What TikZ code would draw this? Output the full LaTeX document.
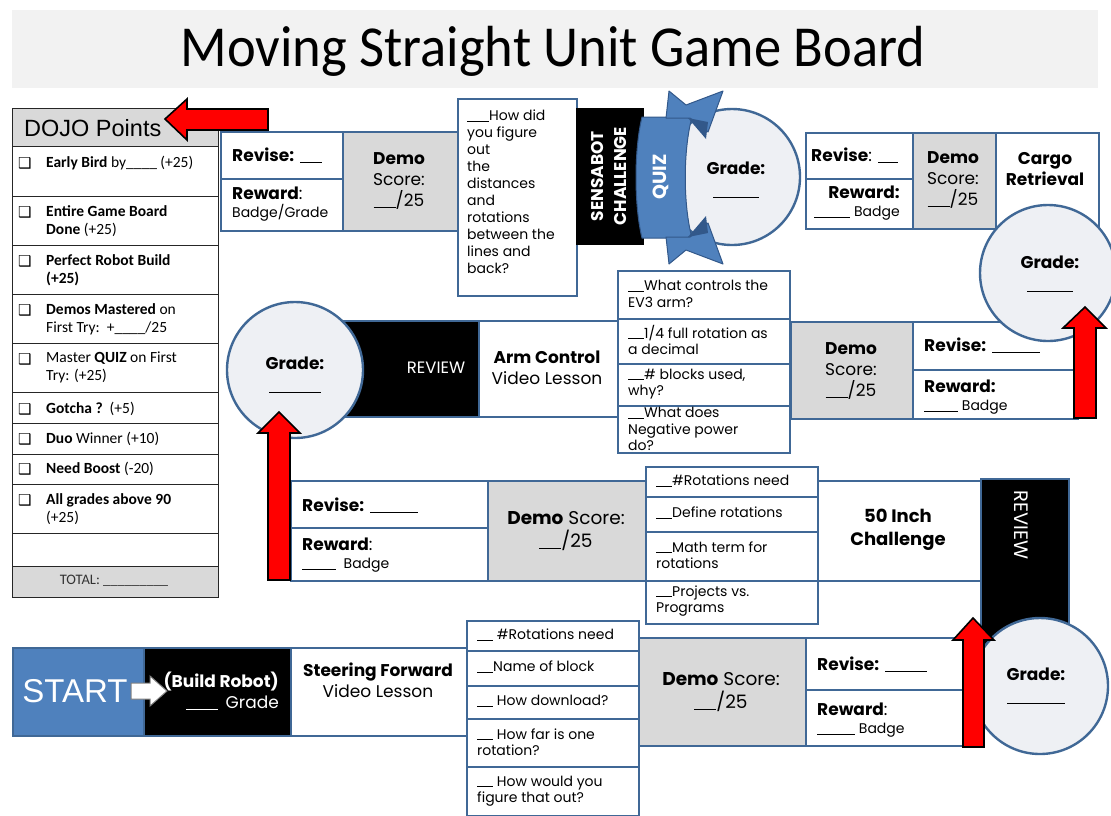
\documentclass[tikz,border=0pt]{standalone}
\usepackage{fontspec}
\setmainfont{Poppins}
\newfontfamily\titlefont{Carlito}
\newfontfamily\listfont{Carlito}
\newfontfamily\symfont{DejaVu Sans}
\newfontfamily\startfont{Liberation Sans}
\usetikzlibrary{positioning}
\definecolor{bblue}{RGB}{64,104,150}
\definecolor{fblue}{RGB}{79,129,189}
\definecolor{dblue}{RGB}{50,88,138}
\definecolor{cgray}{RGB}{217,217,217}
\definecolor{circfill}{RGB}{238,240,244}
\definecolor{titlegray}{RGB}{242,242,242}
\definecolor{arrred}{RGB}{255,0,0}
\newcommand{\bl}[1]{\rule[-1pt]{#1pt}{0.8pt}}
\begin{document}
\begin{tikzpicture}[x=1pt,y=-1pt,
  cell/.style={draw=bblue, line width=2.4pt, inner sep=0pt, anchor=north west, fill=white},
  gcell/.style={cell, fill=cgray},
  bcell/.style={cell, fill=black},
  grade/.style={circle, draw=bblue, line width=2.4pt, fill=circfill, inner sep=0pt, minimum size=136pt},
  gtext/.style={font=\fontsize{17}{21}\selectfont\bfseries, align=center},
  big/.style={font=\fontsize{17}{21}\selectfont, align=center, inner sep=0pt},
  bigl/.style={font=\fontsize{17}{21}\selectfont, align=left, inner sep=0pt, anchor=west},
  sm/.style={font=\fontsize{14}{16.5}\selectfont, align=left, inner sep=0pt, anchor=west},
  qtext/.style={font=\fontsize{14}{17}\selectfont, align=left, inner sep=0pt, anchor=north west},
  dojo/.style={draw=black!85, line width=1.4pt, inner sep=0pt, anchor=north west, minimum width=206pt, fill=white},
  dtext/.style={font=\listfont\fontsize{15.5}{18}\selectfont, align=left, inner sep=0pt, anchor=north west},
  box/.style={font=\symfont\fontsize{15}{15}\selectfont, inner sep=0pt, anchor=north west},
  redarrow/.style={fill=arrred, draw=black, line width=1.6pt, line join=miter},
  ribbon/.style={fill=fblue, draw=dblue, line width=1pt, line join=round}
]
\useasboundingbox (0,0) rectangle (1111,815);
\fill[white] (0,0) rectangle (1111,815);
% title
\fill[titlegray] (12,10) rectangle (1098,88);
\node[font=\titlefont\fontsize{58}{66}\selectfont, inner sep=0pt, xscale=0.94] (title) at (553,51) {Moving Straight Unit Game Board};

% ---------------- DOJO table
\node[dojo, fill=cgray, minimum height=38pt] (dh) at (12,108) {};
\node[font=\startfont\fontsize{23.5}{26}\selectfont, inner sep=0pt, anchor=west] (dht) at (24,128) {DOJO Points};
\node[dojo, minimum height=50pt] (d1) at (12,146) {};
\node[dojo, minimum height=49pt] (d2) at (12,196) {};
\node[dojo, minimum height=49pt] (d3) at (12,245) {};
\node[dojo, minimum height=49pt] (d4) at (12,294) {};
\node[dojo, minimum height=49pt] (d5) at (12,343) {};
\node[dojo, minimum height=31pt] (d6) at (12,392) {};
\node[dojo, minimum height=31pt] (d7) at (12,423) {};
\node[dojo, minimum height=30pt] (d8) at (12,454) {};
\node[dojo, minimum height=49pt] (d9) at (12,484) {};
\node[dojo, minimum height=33pt] (d10) at (12,533) {};
\node[dojo, fill=cgray, minimum height=31pt] (dt) at (12,566) {};
\foreach \n/\y in {1/157,2/206,3/255,4/304,5/353,6/403,7/433,8/463,9/494}{
  \node[box] (cb\n) at (18,\y) {❑};
}
\node[dtext] (t1) at (46,156) {\textbf{Early Bird} by\_\_\_\_ (+25)};
\node[dtext] (t2) at (46,205) {\textbf{Entire Game Board}\\\textbf{Done} (+25)};
\node[dtext] (t3) at (46,254) {\textbf{Perfect Robot Build}\\\textbf{(+25)}};
\node[dtext] (t4) at (46,303) {\textbf{Demos Mastered} on\\First Try:\ \ +\_\_\_\_/25};
\node[dtext] (t5) at (46,352) {Master \textbf{QUIZ} on First\\Try: (+25)};
\node[dtext] (t6) at (46,402) {\textbf{Gotcha ?}\ \ (+5)};
\node[dtext] (t7) at (46,432) {\textbf{Duo} Winner (+10)};
\node[dtext] (t8) at (46,462) {\textbf{Need Boost} (-20)};
\node[dtext] (t9) at (46,493) {\textbf{All grades above 90}\\(+25)};
\node[font=\listfont\fontsize{14.5}{16}\selectfont, text=black!80, inner sep=0pt] (tt) at (114,581) {TOTAL: \_\_\_\_\_\_\_\_\_};

% ---------------- Row D (bottom)
\node[cell, fill=fblue, minimum width=131pt, minimum height=88pt] (start) at (12,647) {};
\node[font=\startfont\fontsize{33}{36}\selectfont, text=white, inner sep=0pt] (startt) at (75,691) {START};
\node[bcell, minimum width=147pt, minimum height=88pt] (build) at (143,647) {};
\node[cell, minimum width=176pt, minimum height=88pt] (steer) at (290,647) {};
\node[big, anchor=east, align=right, text=white] (buildt) at (279,691) {\textbf{(Build Robot)}\\\bl{32}\ \,Grade};
\draw[fill=white, draw=black!50, line width=1pt] (131,683) -- (150,683) -- (150,676) -- (167,691) -- (150,706) -- (150,699) -- (131,699) -- cycle;
\node[big] (steert) at (378,680) {\textbf{Steering Forward}\\Video Lesson};
\node[cell, minimum width=172pt, minimum height=30pt] (qd1) at (466,620) {};
\node[cell, minimum width=172pt, minimum height=35pt] (qd2) at (466,650) {};
\node[cell, minimum width=172pt, minimum height=33pt] (qd3) at (466,685) {};
\node[cell, minimum width=172pt, minimum height=48pt] (qd4) at (466,718) {};
\node[cell, minimum width=172pt, minimum height=49pt] (qd5) at (466,766) {};
\node[sm] (qd1t) at (477,635) {\bl{16} \#Rotations need};
\node[sm] (qd2t) at (477,667) {\bl{16}Name of block};
\node[sm] (qd3t) at (477,701) {\bl{16} How download?};
\node[sm] (qd4t) at (477,742) {\bl{16} How far is one\\rotation?};
\node[sm] (qd5t) at (477,791) {\bl{16} How would you\\figure that out?};
\node[gcell, minimum width=167pt, minimum height=108pt] (demod) at (638,637) {};
\node[big, font=\fontsize{18.5}{23}\selectfont] (demodt) at (721,692) {\textbf{Demo} Score:\\\bl{22}/25};
\node[cell, minimum width=160pt, minimum height=52pt] (revd1) at (805,637) {};
\node[cell, minimum width=160pt, minimum height=56pt] (revd2) at (805,689) {};
\node[bigl] (revd1t) at (817,664) {\textbf{Revise:} \bl{42}};
\node[bigl] (revd2t) at (817,720) {\textbf{Reward}:\\[-3pt]{\fontsize{14}{16}\selectfont\bl{38}\ Badge}};

% ---------------- Row C
\node[cell, minimum width=197pt, minimum height=47pt] (revc1) at (290,480) {};
\node[cell, minimum width=197pt, minimum height=53pt] (revc2) at (290,527) {};
\node[bigl] (revc1t) at (302,505) {\textbf{Revise:} \bl{48}};
\node[bigl] (revc2t) at (302,555) {\textbf{Reward}:\\[-3pt]{\fontsize{14}{16}\selectfont\bl{34}\ \ Badge}};
\node[gcell, minimum width=158pt, minimum height=100pt] (democ) at (487,480) {};
\node[big, font=\fontsize{18.5}{23}\selectfont] (democt) at (566,531) {\textbf{Demo} Score:\\\bl{22}/25};
\node[cell, minimum width=172pt, minimum height=30pt] (qc1) at (645,466) {};
\node[cell, minimum width=172pt, minimum height=35pt] (qc2) at (645,496) {};
\node[cell, minimum width=172pt, minimum height=49pt] (qc3) at (645,531) {};
\node[cell, minimum width=172pt, minimum height=43pt] (qc4) at (645,580) {};
\node[sm] (qc1t) at (656,481) {\bl{16}\#Rotations need};
\node[sm] (qc2t) at (656,513) {\bl{16}Define rotations};
\node[sm] (qc3t) at (656,555) {\bl{16}Math term for\\rotations};
\node[sm] (qc4t) at (656,601) {\bl{16}Projects vs.\\Programs};
\node[cell, minimum width=163pt, minimum height=100pt] (fifty) at (817,480) {};
\node[big, font=\fontsize{18}{23}\selectfont] (fiftyt) at (898,530) {\textbf{50 Inch}\\\textbf{Challenge}};
\node[bcell, minimum width=88pt, minimum height=172pt] (revwc) at (980,478) {};
\node[font=\fontsize{19.5}{22}\selectfont, text=white, rotate=-90, inner sep=0pt] (revwct) at (1021,525) {REVIEW};
\node[grade] (g4) at (1040,686) {};
\node[gtext] (g4t) at (1036,686) {Grade:\\[2pt]\rule{58pt}{0.8pt}};

% ---------------- Row B
\node[cell, minimum width=165pt, minimum height=48pt] (revb1) at (912,321) {};
\node[cell, minimum width=165pt, minimum height=49pt] (revb2) at (912,369) {};
\node[bigl] (revb1t) at (924,345) {\textbf{Revise:} \bl{48}};
\node[bigl] (revb2t) at (924,397) {\textbf{Reward:}\\[-3pt]{\fontsize{14}{16}\selectfont\bl{34}\ Badge}};
\node[gcell, minimum width=122pt, minimum height=97pt] (demob) at (790,321) {};
\node[big] (demobt) at (851,371) {\textbf{Demo}\\Score:\\\bl{22}/25};
\node[cell, minimum width=172pt, minimum height=48pt] (qb1) at (617,270) {};
\node[cell, minimum width=172pt, minimum height=45pt] (qb2) at (617,318) {};
\node[cell, minimum width=172pt, minimum height=42pt] (qb3) at (617,363) {};
\node[cell, minimum width=172pt, minimum height=47pt] (qb4) at (617,405) {};
\node[sm] (qb1t) at (628,294) {\bl{16}What controls the\\EV3 arm?};
\node[sm] (qb2t) at (628,340) {\bl{16}1/4 full rotation as\\a decimal};
\node[sm] (qb3t) at (628,384) {\bl{16}\# blocks used,\\why?};
\node[sm] (qb4t) at (628,429) {\bl{16}What does\\Negative power\\do?};
\node[cell, minimum width=139pt, minimum height=96pt] (arm) at (478,320) {};
\node[big] (armt) at (547,368) {\textbf{Arm Control}\\Video Lesson};
\node[bcell, minimum width=143pt, minimum height=96pt] (revwb) at (335,320) {};
\node[font=\fontsize{16.5}{18}\selectfont, text=white, inner sep=0pt] (revwbt) at (436,368) {REVIEW};
\node[grade] (g3) at (295,370) {};
\node[gtext] (g3t) at (295,375) {Grade:\\[2pt]\rule{52pt}{0.8pt}};

% ---------------- Row A
\node[cell, minimum width=122pt, minimum height=47pt] (reva1) at (220,131) {};
\node[cell, minimum width=122pt, minimum height=52pt] (reva2) at (220,178) {};
\node[bigl] (reva1t) at (232,155) {\textbf{Revise:} \bl{22}};
\node[bigl] (reva2t) at (232,204) {\textbf{Reward}:\\[-3pt]{\fontsize{14}{16}\selectfont Badge/Grade}};
\node[gcell, minimum width=115pt, minimum height=99pt] (demoa) at (342,131) {};
\node[big] (demoat) at (399,181) {\textbf{Demo}\\Score:\\\bl{22}/25};
\node[cell, minimum width=119pt, minimum height=197pt] (qa) at (457,98) {};
\node[qtext] (qat) at (467,110) {\bl{22}How did\\you figure\\out\\the\\distances\\and\\rotations\\between the\\lines and\\back?};
\node[bcell, draw=black, minimum width=66pt, minimum height=135pt] (sens) at (576,108) {};
\node[font=\fontsize{17}{23}\selectfont\bfseries, text=white, rotate=90, align=center, inner sep=0pt] (senst) at (609,176) {SENSABOT\\CHALLENGE};
% grade circle behind the ribbon
\node[grade] (g1) at (732,177) {};
% quiz ribbon body
\draw[ribbon] (642,117) .. controls (634,150) and (634,205) .. (642,238) -- (692,238) .. controls (683,205) and (683,150) .. (692,117) -- cycle;
\node[gtext] (g1t) at (736,180) {Grade:\\[2pt]\rule{46pt}{0.8pt}};
\node[font=\fontsize{19}{22}\selectfont\bfseries, text=white, rotate=90, inner sep=0pt] (quizt) at (661,177) {QUIZ};
% ribbon tails
\draw[ribbon] (666,118) -- (669,91) -- (686,105) -- (723,91) -- (708,132) -- (690,118) -- cycle;
\fill[dblue] (688,118) -- (708,122) -- (706,139) -- cycle;
\draw[ribbon] (666,237) -- (669,264) -- (686,250) -- (723,264) -- (708,223) -- (690,237) -- cycle;
\fill[dblue] (688,237) -- (708,233) -- (706,216) -- cycle;
\node[cell, minimum width=107pt, minimum height=46pt] (reva3) at (805,132) {};
\node[cell, minimum width=107pt, minimum height=50pt] (reva4) at (805,178) {};
\node[bigl] (reva3t) at (811,155) {\textbf{Revise}: \bl{20}};
\node[big, anchor=east, align=right] (reva4t) at (900,203) {\textbf{Reward:}\\[-3pt]{\fontsize{14}{16}\selectfont\bl{36}\ Badge}};
\node[gcell, minimum width=83pt, minimum height=96pt] (demoa2) at (912,132) {};
\node[big] (demoa2t) at (953,180) {\textbf{Demo}\\Score:\\\bl{22}/25};
\node[cell, minimum width=103pt, minimum height=100pt] (cargo) at (995,132) {};
\node[big] (cargot) at (1045,169) {\textbf{Cargo}\\\textbf{Retrieval}};
\node[grade] (g2) at (1048,273) {};
\node[gtext] (g2t) at (1050,274) {Grade:\\[2pt]\rule{46pt}{0.8pt}};

% ---------------- red arrows
\draw[redarrow] (268,580) -- (268,433) -- (258,433) -- (279,412) -- (300,433) -- (290,433) -- (290,580) -- cycle;
\draw[redarrow] (1074,418) -- (1074,328) -- (1063,328) -- (1085,307) -- (1106,328) -- (1096,328) -- (1096,418) -- cycle;
\draw[redarrow] (963,747) -- (963,640) -- (953,640) -- (973,618) -- (994,640) -- (984,640) -- (984,747) -- cycle;
\draw[redarrow] (268,109) -- (187,109) -- (187,99) -- (165,119) -- (187,140) -- (187,130) -- (268,130) -- cycle;
\end{tikzpicture}
\end{document}
